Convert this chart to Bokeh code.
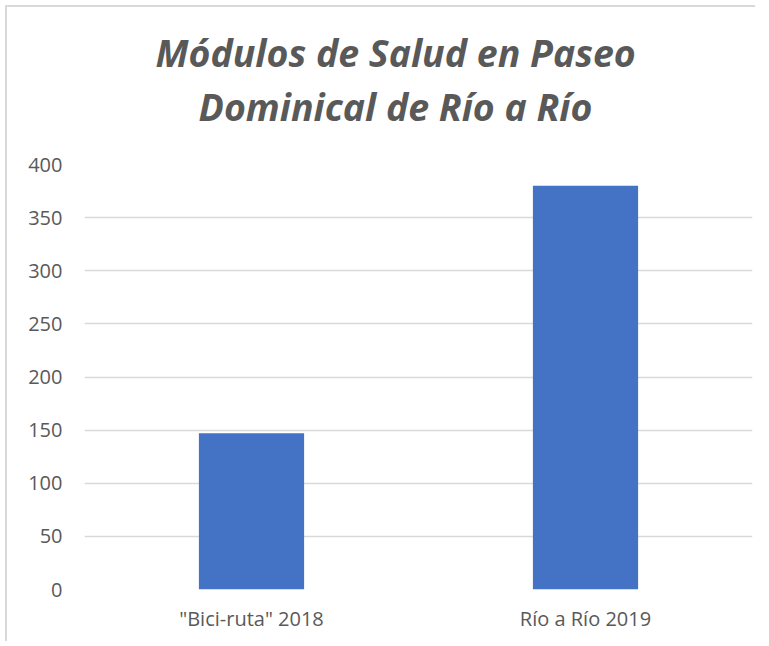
from bokeh.plotting import figure
from bokeh.models import FactorRange, Range1d, Title, FixedTicker, ColumnDataSource
from bokeh.embed import file_html
from bokeh.resources import INLINE

# ---- data ----
categories = ['"Bici-ruta" 2018', 'Río a Río 2019']
values = [147, 380]
y_ticks = [0, 50, 100, 150, 200, 250, 300, 350, 400]
title_lines = ["Módulos de Salud en Paseo", "Dominical de Río a Río"]

TEXT = "#595959"
GRID = "#d9d9d9"
BAR = "#4472C4"
FONT = "Open Sans"

W, H = 750, 636
p = figure(
    x_range=FactorRange(*categories, range_padding=0),
    y_range=Range1d(0, 400),
    width=W, height=H,
    output_backend="svg", toolbar_location=None,
    min_border_left=77, min_border_right=5,
    min_border_top=157, min_border_bottom=54,
)
p.styles = {"border-left": "2px solid #d9d9d9", "border-top": "2px solid #d9d9d9",
            "margin-left": "5px", "margin-top": "5px"}
p.outline_line_color = None
p.background_fill_color = "white"
p.border_fill_color = "white"

src = ColumnDataSource(dict(x=categories, top=values))
p.vbar(x="x", top="top", width=0.315, source=src, fill_color=BAR, line_color=None)

# axes
p.yaxis.ticker = FixedTicker(ticks=y_ticks)
for ax in (p.xaxis[0], p.yaxis[0]):
    ax.axis_line_color = None
    ax.major_tick_line_color = None
    ax.minor_tick_line_color = None
    ax.major_tick_out = 0
    ax.major_tick_in = 0
    ax.minor_tick_out = 0
    ax.major_label_text_font = FONT
    ax.major_label_text_font_size = "20px"
    ax.major_label_text_color = TEXT
p.yaxis.major_label_standoff = 22
p.xaxis.major_label_standoff = 15

p.xgrid.grid_line_color = None
p.ygrid.grid_line_color = GRID
p.ygrid.grid_line_width = 1.3

# spacer between frame and title (first added sits closest to the plot)
p.add_layout(Title(text=" ", standoff=29, text_font_size="2px", text_color="white"), "above")
for line, off, so in [(title_lines[1], 114, 0), (title_lines[0], 71, 2)]:
    p.add_layout(Title(
        text=line, align="left", offset=off, standoff=so,
        text_font=FONT, text_font_style="bold italic",
        text_font_size="37.5px", text_color=TEXT,
    ), "above")

open("out.html", "w").write(file_html(p, INLINE))
